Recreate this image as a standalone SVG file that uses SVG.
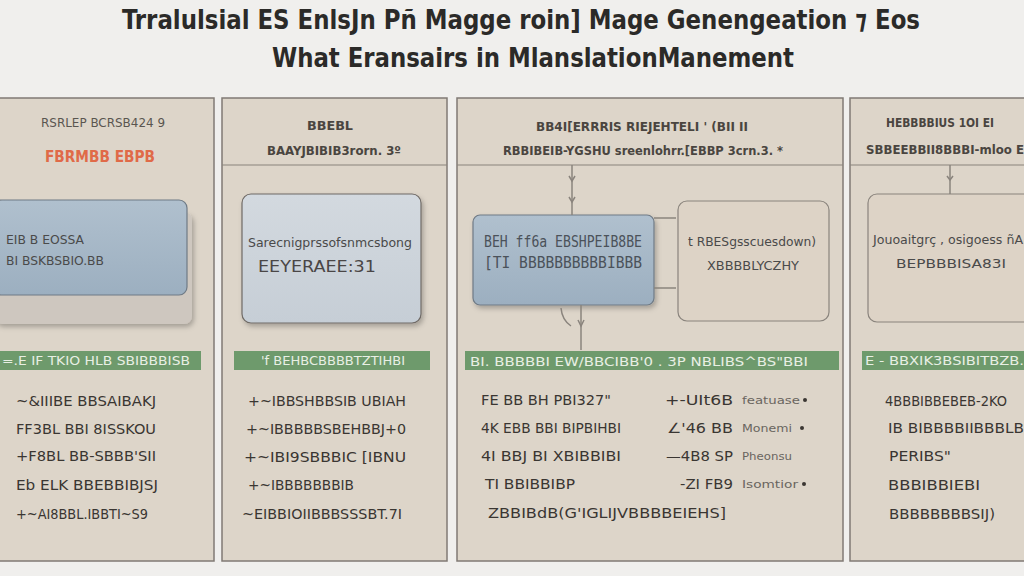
<svg xmlns="http://www.w3.org/2000/svg" width="1024" height="576" viewBox="0 0 1024 576">
<defs>
<style>
.title{font-family:"DejaVu Sans Condensed","DejaVu Sans",sans-serif;font-weight:bold;fill:#2b2a28;font-size:26px}
.panel{fill:#ddd5c9;stroke:#807a74;stroke-width:1.5}
.div{stroke:#8a847d;stroke-width:1.2}
.hd{font-family:"DejaVu Sans Condensed","DejaVu Sans",sans-serif;font-size:12px;fill:#5a5550}
.hdb{font-family:"DejaVu Sans Condensed","DejaVu Sans",sans-serif;font-size:12px;fill:#4a4540;font-weight:bold}
.bar{fill:#6e9a6c}
.bt{font-family:"DejaVu Sans Condensed","DejaVu Sans",sans-serif;font-size:12px;fill:#e8efe4}
.li{font-family:"DejaVu Sans Condensed","DejaVu Sans",sans-serif;font-size:14px;fill:#3a3632}
.sm{font-family:"DejaVu Sans Condensed","DejaVu Sans",sans-serif;font-size:11px;fill:#6a655f}
.bx{font-family:"DejaVu Sans Condensed","DejaVu Sans",sans-serif;font-size:12px;fill:#4a4a4a}
.con{stroke:#8a847d;stroke-width:1.5;fill:none}
</style>
<linearGradient id="blue" x1="0" y1="0" x2="0" y2="1">
<stop offset="0" stop-color="#b0c0ce"/><stop offset="1" stop-color="#9cafc0"/>
</linearGradient>
<linearGradient id="blue2" x1="0" y1="0" x2="0" y2="1">
<stop offset="0" stop-color="#d3d9df"/><stop offset="1" stop-color="#c6ced6"/>
</linearGradient>
<filter id="sh" x="-10%" y="-10%" width="130%" height="140%">
<feDropShadow dx="2" dy="3" stdDeviation="2.5" flood-color="#000" flood-opacity="0.25"/>
</filter>
</defs>
<rect width="1024" height="576" fill="#f0efed"/>
<g id="title">
<text class="title" x="521" y="29" text-anchor="middle" textLength="798" lengthAdjust="spacingAndGlyphs">Trralulsial ES EnlsJn Pñ Magge roin] Mage Genengeation ⁊ Eos</text>
<text class="title" x="533" y="67" text-anchor="middle" textLength="522" lengthAdjust="spacingAndGlyphs">What Eransairs  in MlanslationManement</text>
</g>

<g id="panel1">
<rect class="panel" x="-2" y="98" width="216" height="463" fill="#dad4cc"/>
<text class="hd" x="103" y="127" text-anchor="middle" textLength="124" lengthAdjust="spacingAndGlyphs">RSRLEP BCRSB424 9</text>
<text x="100" y="162" text-anchor="middle" font-family="DejaVu Sans Condensed,sans-serif" font-size="15" font-weight="bold" fill="#e06a48" textLength="110" lengthAdjust="spacingAndGlyphs">FBRMBB EBPB</text>
<rect x="-6" y="212" width="198" height="112" rx="8" fill="#cec7bf" filter="url(#sh)"/>
<rect x="-6" y="200" width="193" height="95" rx="8" fill="url(#blue)" stroke="#6f7a85" stroke-width="1.2"/>
<text class="bx" x="6" y="244" textLength="78" lengthAdjust="spacingAndGlyphs">EIB B EOSSA</text>
<text class="bx" x="6" y="265" textLength="98" lengthAdjust="spacingAndGlyphs">BI BSKBSBIO.BB</text>
<rect class="bar" x="0" y="351" width="201" height="19"/>
<text class="bt" x="2" y="365" textLength="188" lengthAdjust="spacingAndGlyphs">=.E IF  TKIO HLB SBIBBBISB</text>
<text class="li" x="16" y="406" textLength="140" lengthAdjust="spacingAndGlyphs">~&amp;IIIBE BBSAIBAKJ</text>
<text class="li" x="16" y="434" textLength="140" lengthAdjust="spacingAndGlyphs">FF3BL BBI 8ISSKOU</text>
<text class="li" x="16" y="461" textLength="140" lengthAdjust="spacingAndGlyphs">+F8BL BB-SBBB'SII</text>
<text class="li" x="16" y="490" textLength="142" lengthAdjust="spacingAndGlyphs">Eb ELK BBEBBIBJSJ</text>
<text class="li" x="16" y="519" textLength="132" lengthAdjust="spacingAndGlyphs">+~AI8BBL.IBBTI~S9</text>
</g>

<g id="panel2">
<rect class="panel" x="222" y="98" width="225" height="463"/>
<line class="div" x1="222" y1="165" x2="447" y2="165"/>
<text class="hdb" x="330" y="130" text-anchor="middle" textLength="46" lengthAdjust="spacingAndGlyphs">BBEBL</text>
<text class="hdb" x="334" y="155" text-anchor="middle" textLength="134" lengthAdjust="spacingAndGlyphs">BAAYJBIBIB3rorn. 3º</text>
<rect x="242" y="194" width="179" height="129" rx="9" fill="url(#blue2)" stroke="#6f6a66" stroke-width="1.2" filter="url(#sh)"/>
<text class="bx" x="330" y="247" text-anchor="middle" fill="#4a3535" textLength="164" lengthAdjust="spacingAndGlyphs">Sarecnigprssofsnmcsbong</text>
<text x="258" y="272" font-family="DejaVu Sans Condensed,sans-serif" font-size="15" fill="#4a4646" textLength="118" lengthAdjust="spacingAndGlyphs">EEYERAEE:31</text>
<rect class="bar" x="234" y="351" width="196" height="19"/>
<text class="bt" x="333" y="365" text-anchor="middle" textLength="144" lengthAdjust="spacingAndGlyphs">'f BEHBCBBBBTZTIHBI</text>
<text class="li" x="248" y="406" textLength="158" lengthAdjust="spacingAndGlyphs">+~IBBSHBBSIB UBIAH</text>
<text class="li" x="246" y="434" textLength="160" lengthAdjust="spacingAndGlyphs">+~IBBBBBSBEHBBJ+0</text>
<text class="li" x="244" y="462" textLength="162" lengthAdjust="spacingAndGlyphs">+~IBI9SBBBIC [IBNU</text>
<text class="li" x="248" y="490" textLength="106" lengthAdjust="spacingAndGlyphs">+~IBBBBBBBIB</text>
<text class="li" x="242" y="519" textLength="160" lengthAdjust="spacingAndGlyphs">~EIBBIOIIBBBSSSBT.7I</text>
</g>

<g id="panel3">
<rect class="panel" x="457" y="98" width="386" height="463"/>
<line class="div" x1="457" y1="165" x2="843" y2="165"/>
<text class="hdb" x="642" y="131" text-anchor="middle" textLength="212" lengthAdjust="spacingAndGlyphs">BB4I[ERRRIS RIEJEHTELI ' (BII II</text>
<text class="hdb" x="643" y="155" text-anchor="middle" textLength="280" lengthAdjust="spacingAndGlyphs">RBBIBEIB-YGSHU sreenlohrr.[EBBP 3crn.3. *</text>
<rect x="473" y="215" width="181" height="90" rx="7" fill="url(#blue)" stroke="#6f7a85" stroke-width="1.2" filter="url(#sh)"/>
<text x="563" y="247" text-anchor="middle" font-family="DejaVu Sans Mono,monospace" font-size="15" fill="#4b525a" textLength="158" lengthAdjust="spacingAndGlyphs">BEH ff6a EBSHPEIB8BE</text>
<text x="563" y="268" text-anchor="middle" font-family="DejaVu Sans Mono,monospace" font-size="15" fill="#4b525a" textLength="158" lengthAdjust="spacingAndGlyphs">[TI BBBBBBBBBBIBBB</text>
<rect x="678" y="201" width="151" height="120" rx="9" fill="#ddd3c6" stroke="#8a847d" stroke-width="1.2"/>
<text class="bx" x="752" y="246" text-anchor="middle" fill="#3e3a36" textLength="128" lengthAdjust="spacingAndGlyphs">t RBESgsscuesdown)</text>
<text class="bx" x="753" y="270" text-anchor="middle" fill="#3e3a36" textLength="92" lengthAdjust="spacingAndGlyphs">XBBBBLYCZHY</text>
<rect class="bar" x="465" y="351" width="374" height="19"/>
<text class="bt" x="470" y="366" textLength="338" lengthAdjust="spacingAndGlyphs">BI. BBBBBI EW/BBCIBB'0 . 3P NBLIBS^BS"BBI</text>
<text class="li" x="481" y="405" textLength="130" lengthAdjust="spacingAndGlyphs">FE BB BH PBI327"</text>
<text class="li" x="481" y="433" textLength="140" lengthAdjust="spacingAndGlyphs">4K EBB BBI BIPBIHBI</text>
<text class="li" x="481" y="461" textLength="140" lengthAdjust="spacingAndGlyphs">4I BBJ BI XBIBBIBI</text>
<text class="li" x="485" y="489" textLength="90" lengthAdjust="spacingAndGlyphs">TI BBIBBIBP</text>
<text class="li" x="488" y="518" textLength="238" lengthAdjust="spacingAndGlyphs">ZBBIBdB(G'IGLIJVBBBBEIEHS]</text>
<text class="li" x="665" y="405" textLength="68" lengthAdjust="spacingAndGlyphs">+-UIt6B</text>
<text class="li" x="667" y="433" textLength="66" lengthAdjust="spacingAndGlyphs">∠'46 BB</text>
<text class="li" x="666" y="461" textLength="67" lengthAdjust="spacingAndGlyphs">—4B8 SP</text>
<text class="li" x="680" y="489" textLength="53" lengthAdjust="spacingAndGlyphs">-ZI FB9</text>
<text class="sm" x="742" y="404" textLength="58" lengthAdjust="spacingAndGlyphs">featuase</text>
<text class="sm" x="742" y="432" textLength="50" lengthAdjust="spacingAndGlyphs">Monemi</text>
<text class="sm" x="742" y="460" textLength="50" lengthAdjust="spacingAndGlyphs">Pheonsu</text>
<text class="sm" x="742" y="488" textLength="56" lengthAdjust="spacingAndGlyphs">Isomtior</text>
<circle cx="805" cy="400" r="2" fill="#3a3632"/>
<circle cx="802" cy="428" r="2" fill="#3a3632"/>
<circle cx="804" cy="484" r="2" fill="#3a3632"/>
</g>

<g id="panel4">
<rect class="panel" x="850" y="98" width="180" height="463"/>
<line class="div" x1="850" y1="165" x2="1030" y2="165"/>
<text class="hdb" x="940" y="127" text-anchor="middle" textLength="108" lengthAdjust="spacingAndGlyphs">HEBBBBIUS 1OI EI</text>
<text class="hdb" x="866" y="154" textLength="158" lengthAdjust="spacingAndGlyphs">SBBEEBBII8BBBI-mloo E</text>
<rect x="868" y="194" width="170" height="128" rx="9" fill="#ddd3c6" stroke="#8a847d" stroke-width="1.2"/>
<text class="bx" x="873" y="244" fill="#3e3a36" textLength="150" lengthAdjust="spacingAndGlyphs">Jouoaitgrç , osigoess ñA</text>
<text class="bx" x="896" y="268" fill="#3e3a36" textLength="110" lengthAdjust="spacingAndGlyphs">BEPBBBISA83I</text>
<rect class="bar" x="862" y="351" width="166" height="19"/>
<text class="bt" x="865" y="365" textLength="159" lengthAdjust="spacingAndGlyphs">E - BBXIK3BSIBITBZB.</text>
<text class="li" x="885" y="406" fill="#6a6560" textLength="122" lengthAdjust="spacingAndGlyphs">4BBBIBBEBEB-2KO</text>
<text class="li" x="888" y="433" fill="#6a6560" textLength="136" lengthAdjust="spacingAndGlyphs">IB BIBBBBIIBBBLB</text>
<text class="li" x="889" y="461" fill="#6a6560" textLength="62" lengthAdjust="spacingAndGlyphs">PERIBS"</text>
<text class="li" x="888" y="490" fill="#6a6560" textLength="92" lengthAdjust="spacingAndGlyphs">BBBIBBIEBI</text>
<text class="li" x="889" y="519" fill="#6a6560" textLength="106" lengthAdjust="spacingAndGlyphs">BBBBBBBBSIJ)</text>
</g>

<g id="connectors">
<line class="con" x1="572" y1="165" x2="572" y2="215"/>
<path class="con" d="M569 176 L572 181 L575 176 M569 197 L572 202 L575 197"/>
<line class="con" x1="654" y1="218" x2="676" y2="218"/>
<line class="con" x1="654" y1="288" x2="676" y2="288"/>
<line class="con" x1="581" y1="305" x2="581" y2="350"/>
<path class="con" d="M561 308 Q562 320 571 326"/>
<path class="con" d="M578 320 L581 326 L584 320"/>
<line class="con" x1="950" y1="165" x2="950" y2="194"/>
<path class="con" d="M947 176 L950 180 L953 176"/>
</g>
</svg>
